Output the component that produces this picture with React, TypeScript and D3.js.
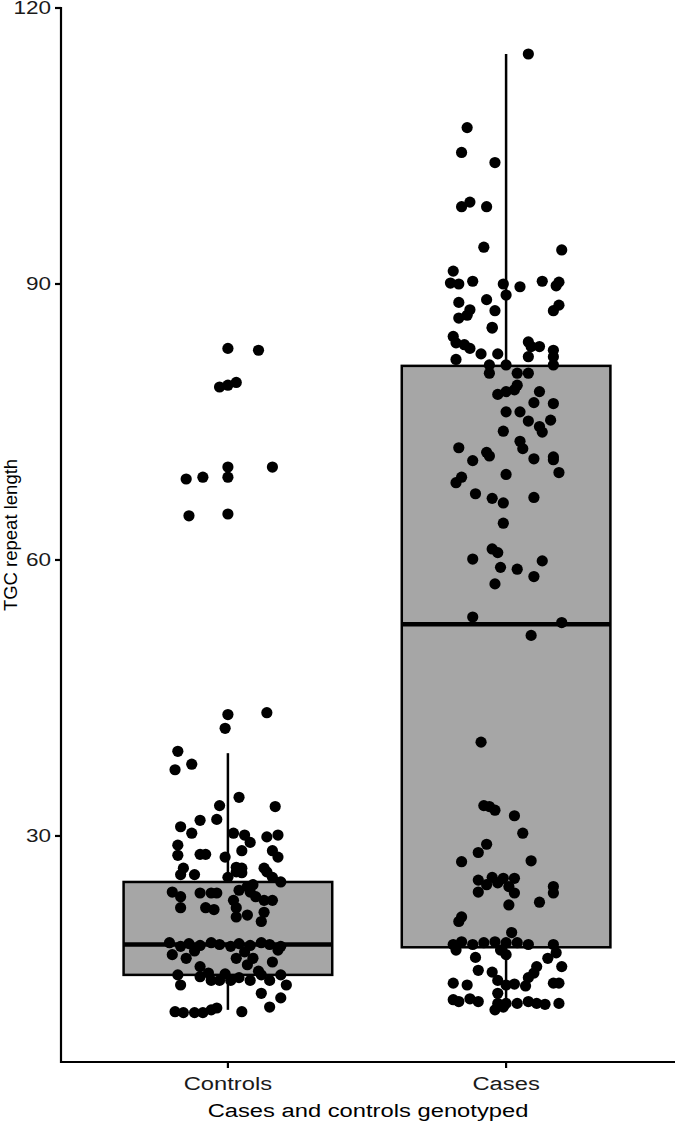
import React from 'react';
import * as d3 from 'd3';

// groups on the x axis
const groups = ['Controls', 'Cases'];

// box statistics per group: [q1, median, q3, lower whisker, upper whisker]
const boxStats: number[][] = [
    [14.9, 18.2, 25.0, 11.1, 39.0],
    [17.9, 53.0, 81.1, 11.1, 115.0],
];

// jittered points: horizontal jitter (fraction of a band step) and TGC repeat length
const controlsJitter = [
    0.00, 0.11, -0.03, 0.00, 0.03, 0.16, 0.00, 0.00, -0.15, -0.09, -0.14, 0.00,
    0.00, -0.01, 0.14, -0.18, -0.19, -0.13, 0.04, -0.03, 0.17, -0.10, -0.04, -0.17,
    -0.13, 0.02, 0.06, 0.14, 0.18, 0.08, -0.18, -0.18, -0.10, -0.08, 0.05, 0.16,
    0.18, -0.01, -0.16, 0.03, 0.05, 0.13,
    -0.17, -0.12, 0.00, 0.03, 0.05, 0.14, 0.16, 0.19,
    -0.20, -0.17, -0.10, -0.06, -0.04, 0.04, 0.08, 0.10, 0.13, 0.16, 0.02, 0.07, 0.09,
    -0.17, -0.08, -0.05, 0.03, 0.07, 0.13, 0.03, 0.12,
    -0.21, -0.17, -0.14, -0.10, -0.06, -0.03, 0.01, 0.04, 0.08, 0.12, 0.15, 0.19,
    -0.20, -0.15, -0.10, 0.03, 0.09, 0.16, 0.07,
    -0.18, -0.17, -0.10, -0.06, -0.03, 0.01, 0.04, 0.08, 0.12, 0.15, 0.19, 0.21,
    0.12, 0.15, 0.19,
    -0.19, -0.16, -0.12, -0.09, -0.06, -0.04, 0.05,
    -0.12, 0.06, 0.11, -0.07, 0.18, -0.01,
];
const controlsValues = [
    83.0, 82.8, 78.8, 79.0, 79.3, 70.1, 70.1, 69.0, 68.8, 69.0, 64.8, 65.0,
    43.2, 41.7, 43.4, 39.2, 37.2, 37.8, 34.2, 33.3, 33.2, 31.7, 31.8, 31.0,
    30.3, 30.3, 30.1, 29.9, 30.1, 29.3, 29.0, 27.9, 28.0, 28.0, 28.4, 28.4,
    27.7, 27.7, 26.5, 26.6, 26.5, 26.5,
    25.8, 25.8, 25.5, 26.1, 26.0, 26.1, 25.5, 25.0,
    23.9, 23.4, 23.8, 23.8, 23.8, 24.1, 23.9, 23.4, 23.0, 23.0, 23.0, 24.5, 24.7,
    22.2, 22.2, 22.0, 22.2, 21.4, 21.7, 21.2, 20.7,
    18.4, 18.0, 18.3, 18.1, 18.4, 18.2, 18.0, 18.3, 18.1, 18.4, 18.2, 18.0,
    17.1, 16.7, 15.8, 16.7, 16.7, 16.3, 16.0,
    14.9, 13.8, 14.7, 14.3, 14.3, 14.3, 14.6, 14.3, 14.9, 14.3, 14.9, 13.8,
    12.9, 11.4, 12.4,
    10.9, 10.8, 10.8, 10.8, 11.1, 11.3, 10.9,
    17.5, 17.4, 15.3, 15.1, 17.6, 15.0,
];

const casesJitter = [
    0.08, -0.14, -0.16, -0.04, -0.13, -0.16, -0.07, -0.08, 0.20, -0.19,
    -0.20, -0.17, -0.12, -0.01, 0.05, 0.13, 0.19, 0.18, 0.00, -0.17,
    -0.07, -0.04, -0.13, -0.14, -0.17, 0.19, 0.17, -0.05, -0.05, -0.19,
    -0.18, -0.15, -0.13, -0.09, -0.03, -0.18, 0.08, 0.09, 0.12, 0.08,
    0.17, 0.17, -0.06, -0.06, 0.00, 0.04, 0.08, 0.17, -0.03, 0.00,
    0.03, 0.04, 0.12, 0.10, 0.17, 0.00, 0.05, 0.08, 0.16, 0.12,
    0.13, -0.01, 0.05, 0.06, -0.17, -0.07, -0.06, -0.12, 0.10, 0.17,
    0.17, 0.19, 0.00, -0.16, -0.18, -0.11, -0.05, -0.01, 0.10, -0.01,
    -0.05, -0.03, -0.12, 0.13, -0.02, 0.04, 0.10, -0.04, -0.12, 0.20,
    0.09, -0.09, -0.08, -0.06, -0.04, 0.03, 0.06, -0.07, -0.10, -0.16,
    0.09, -0.10, -0.05, -0.01, 0.03, -0.10, -0.07, -0.03, 0.01, 0.03,
    0.17, 0.17, 0.12, 0.01, -0.16, -0.17, 0.02,
    -0.19, -0.16, -0.12, -0.08, -0.04, 0.00, 0.04, 0.08, 0.17,
    -0.18, -0.11, -0.02, 0.00, 0.18, 0.15, 0.20, 0.11, -0.10, -0.05,
    0.10, 0.08, -0.19, -0.14, -0.03, 0.00, 0.03, 0.07, 0.17, 0.19,
    -0.19, -0.17, -0.13, -0.10, -0.03, -0.03, 0.00, 0.04, 0.08, 0.11,
    0.14, 0.19, -0.04, -0.01,
];
const casesValues = [
    115.0, 107.0, 104.3, 103.2, 98.9, 98.4, 98.4, 94.0, 93.7, 91.4,
    90.1, 90.0, 90.3, 90.0, 89.7, 90.3, 90.2, 89.8, 88.8, 88.0,
    88.3, 87.1, 87.2, 86.6, 86.3, 87.7, 87.1, 85.2, 85.3, 84.3,
    83.6, 83.4, 83.0, 82.4, 82.4, 81.8, 83.7, 83.2, 83.2, 82.1,
    82.8, 82.1, 81.2, 80.3, 81.2, 80.3, 80.3, 81.2, 78.0, 78.3,
    78.5, 79.0, 78.3, 77.1, 77.0, 76.1, 76.1, 75.1, 75.2, 74.5,
    73.9, 74.0, 72.9, 72.1, 72.2, 71.7, 71.3, 70.8, 71.0, 70.9,
    71.2, 69.5, 69.3, 69.0, 68.4, 67.2, 66.7, 66.2, 66.8, 64.0,
    61.2, 60.8, 60.1, 59.9, 59.2, 59.0, 58.2, 57.4, 53.8, 53.2,
    51.8, 40.2, 33.3, 33.2, 32.8, 32.2, 30.3, 29.1, 28.2, 27.2,
    27.3, 25.2, 25.5, 25.4, 25.4, 23.9, 24.7, 24.9, 24.5, 23.8,
    24.5, 23.8, 22.8, 22.5, 21.2, 20.7, 19.5,
    18.2, 18.5, 18.2, 18.4, 18.5, 18.4, 18.4, 18.2, 18.2,
    17.6, 16.8, 17.6, 17.1, 17.3, 16.7, 15.8, 15.8, 15.4, 15.2,
    15.1, 14.6, 14.0, 13.8, 14.3, 13.8, 13.9, 13.7, 14.0, 14.0,
    12.2, 12.0, 12.3, 12.0, 12.9, 11.8, 11.8, 11.8, 12.0, 11.8,
    11.7, 11.8, 11.1, 11.4,
];

const yTicks = [30, 60, 90, 120];

const W = 675;
const H = 1125;
const FONT = '"Liberation Sans", Arial, sans-serif';
// the reference's lettering is a little wider than it is tall
const STRETCH = 1.32;

export default function App() {
    const left = 61;
    const top = 8;
    const bottom = 1062;
    const right = 673;

    const x = d3.scalePoint<string>().domain(groups).range([left, right]).padding(0.6);
    const step = x.step();
    const y = d3.scaleLinear().domain([5.43, 120]).range([bottom, top]);
    const boxW = step * 0.75;

    const points = [
        controlsValues.map((v, i) => ({ g: groups[0], j: controlsJitter[i], v })),
        casesValues.map((v, i) => ({ g: groups[1], j: casesJitter[i], v })),
    ].flat();

    return (
        <svg width={W} height={H} style={{ position: 'absolute', left: 0, top: 0, background: '#fff' }}
            fontFamily={FONT}>
            {/* boxes */}
            {groups.map((g, i) => {
                const [q1, med, q3, lo, hi] = boxStats[i];
                const cx = x(g)!;
                return (
                    <g key={g}>
                        <line x1={cx} x2={cx} y1={y(hi)} y2={y(q3)} stroke="#000" strokeWidth={2.5} />
                        <line x1={cx} x2={cx} y1={y(q1)} y2={y(lo)} stroke="#000" strokeWidth={2.5} />
                        <rect x={cx - boxW / 2} y={y(q3)} width={boxW} height={y(q1) - y(q3)}
                            fill="#a6a6a6" stroke="#000" strokeWidth={2.5} />
                        <line x1={cx - boxW / 2} x2={cx + boxW / 2} y1={y(med)} y2={y(med)}
                            stroke="#000" strokeWidth={4.5} />
                    </g>
                );
            })}

            {/* jittered points */}
            {points.map((p, i) => (
                <circle key={i} cx={x(p.g)! + p.j * step} cy={y(p.v)} r={5.6} fill="#000" />
            ))}

            {/* y axis */}
            <line x1={left} x2={left} y1={top - 1} y2={bottom + 1} stroke="#000" strokeWidth={2.2} />
            {yTicks.map(t => (
                <g key={t}>
                    <line x1={left - 6} x2={left} y1={y(t)} y2={y(t)} stroke="#000" strokeWidth={2.2} />
                    <text transform={`translate(${left - 10},${y(t)}) scale(1.25,1)`} dy="0.36em"
                        textAnchor="end" fontSize={18} fill="#1a1a1a">{t}</text>
                </g>
            ))}

            {/* x axis */}
            <line x1={left - 1} x2={W} y1={bottom} y2={bottom} stroke="#000" strokeWidth={2.2} />
            {groups.map(g => (
                <g key={g}>
                    <line x1={x(g)} x2={x(g)} y1={bottom} y2={bottom + 6} stroke="#000" strokeWidth={2.2} />
                    <text transform={`translate(${x(g)},${bottom + 28}) scale(${STRETCH},1)`}
                        textAnchor="middle" fontSize={18} fill="#1a1a1a">{g}</text>
                </g>
            ))}

            {/* axis titles */}
            <text transform={`translate(${(left + W) / 2},1117) scale(${STRETCH},1)`} textAnchor="middle"
                fontSize={18} fill="#000">Cases and controls genotyped</text>
            <text transform={`translate(17,${(top + bottom) / 2}) rotate(-90)`} textAnchor="middle"
                fontSize={18.5} fill="#000">TGC repeat length</text>
        </svg>
    );
}
